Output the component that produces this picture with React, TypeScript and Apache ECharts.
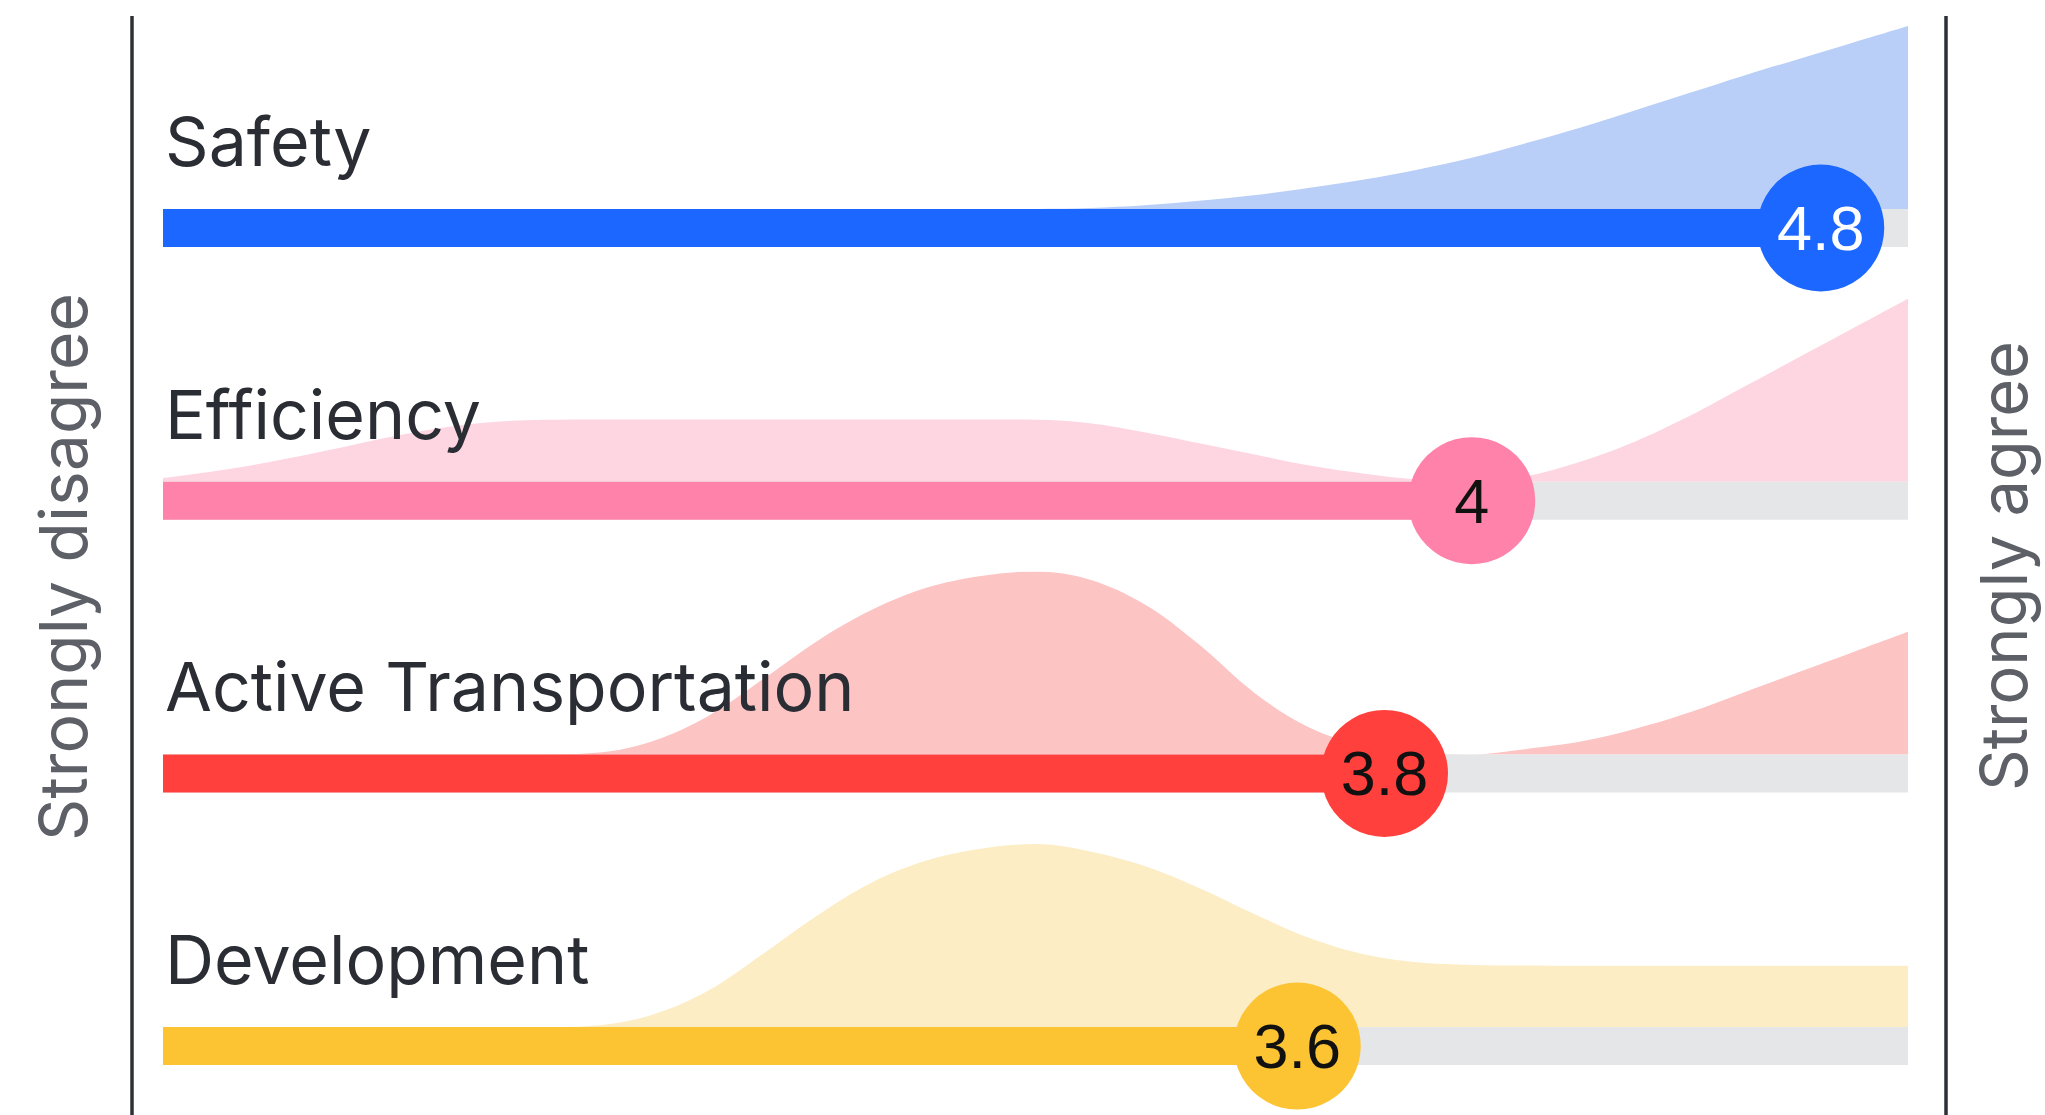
import React, { useEffect, useRef } from "react";
import * as echarts from "echarts";

// ---------- data ----------
const CATEGORIES = ["Safety", "Efficiency", "Active Transportation", "Development"];
const SCORES = [4.8, 4.0, 3.8, 3.6];
const SCORE_LABELS = ["4.8", "4", "3.8", "3.6"];
const LEFT_LABEL = "Strongly disagree";
const RIGHT_LABEL = "Strongly agree";

// response-scale positions at which the (normalised) distribution height is read
const DENSITY_X = [
  1, 1.125, 1.25, 1.375, 1.5, 1.625, 1.75, 1.875,
  2, 2.125, 2.25, 2.375, 2.5, 2.625, 2.75, 2.875,
  3, 3.125, 3.25, 3.375, 3.5, 3.625, 3.75, 3.875,
  4, 4.125, 4.25, 4.375, 4.5, 4.625, 4.75, 4.875, 5,
];
const SAFETY_DENSITY = [
  0, 0, 0, 0, 0, 0, 0, 0,
  0, 0, 0, 0, 0, 0, 0, 0,
  0, 0.005, 0.02, 0.045, 0.075, 0.115, 0.16, 0.215,
  0.28, 0.36, 0.445, 0.54, 0.635, 0.73, 0.82, 0.91, 1.0,
];
const EFFICIENCY_DENSITY = [
  0.02, 0.06, 0.11, 0.17, 0.235, 0.29, 0.325, 0.338,
  0.34, 0.34, 0.34, 0.34, 0.34, 0.34, 0.34, 0.34,
  0.338, 0.32, 0.27, 0.21, 0.15, 0.09, 0.045, 0.012,
  0.0, 0.03, 0.11, 0.22, 0.36, 0.52, 0.68, 0.84, 1.0,
];
const ACTIVE_DENSITY = [
  0, 0, 0, 0, 0, 0, 0, 0,
  0.01, 0.075, 0.21, 0.41, 0.62, 0.79, 0.91, 0.975,
  1.0, 0.955, 0.82, 0.6, 0.34, 0.15, 0.05, 0.01,
  0.0, 0.03, 0.07, 0.14, 0.23, 0.34, 0.45, 0.56, 0.67,
];
const DEVELOPMENT_DENSITY = [
  0, 0, 0, 0, 0, 0, 0, 0,
  0.01, 0.07, 0.2, 0.4, 0.61, 0.79, 0.91, 0.975,
  1.0, 0.96, 0.88, 0.76, 0.62, 0.49, 0.4, 0.355,
  0.34, 0.336, 0.335, 0.335, 0.335, 0.335, 0.335, 0.335, 0.335,
];
const DENSITIES = [SAFETY_DENSITY, EFFICIENCY_DENSITY, ACTIVE_DENSITY, DEVELOPMENT_DENSITY];

// ---------- styles ----------
const STRONG = ["#1c67ff", "#ff82aa", "#ff403c", "#fcc433"];
const LIGHT = ["#b9cff8", "#fdd6e2", "#fdc4c4", "#fcedc5"];
const SCORE_TEXT = ["#ffffff", "#111111", "#111111", "#111111"];
const TRACK = "#e4e6e7";

const W = 2045;
const H = 1115;
const PLOT_LEFT = 163;
const PLOT_RIGHT = 1908;
const AREA_PX = 183;
const BAR_PX = 38;
const ROW_CENTER0 = 228;
const ROW_STEP = 272.7;
const Y_MIN = -BAR_PX / AREA_PX;
const Y_MID = Y_MIN / 2;

function buildOption() {
  const grid: any[] = [];
  const xAxis: any[] = [];
  const yAxis: any[] = [];
  const series: any[] = [];
  const graphic: any[] = [];

  CATEGORIES.forEach((name, i) => {
    const c = ROW_CENTER0 + i * ROW_STEP;
    grid.push({
      left: PLOT_LEFT,
      width: PLOT_RIGHT - PLOT_LEFT,
      top: c + BAR_PX / 2 - (AREA_PX + BAR_PX),
      height: AREA_PX + BAR_PX,
    });
    xAxis.push({ type: "value", gridIndex: i, min: 1, max: 5, show: false });
    yAxis.push({ type: "value", gridIndex: i, min: Y_MIN, max: 1, show: false });

    series.push({
      type: "line",
      name: name + " distribution",
      xAxisIndex: i,
      yAxisIndex: i,
      data: DENSITY_X.map((x, k) => [x, DENSITIES[i][k]]),
      smooth: 0.35,
      symbol: "none",
      lineStyle: { width: 0 },
      areaStyle: { color: LIGHT[i], opacity: 1 },
      silent: true,
      z: 1,
    });
    series.push({
      type: "line",
      xAxisIndex: i,
      yAxisIndex: i,
      data: [
        [1, Y_MID],
        [5, Y_MID],
      ],
      symbol: "none",
      lineStyle: { width: BAR_PX, color: TRACK, cap: "butt" },
      silent: true,
      z: 2,
    });
    series.push({
      type: "line",
      xAxisIndex: i,
      yAxisIndex: i,
      data: [
        [1, Y_MID],
        [SCORES[i], Y_MID],
      ],
      symbol: "none",
      lineStyle: { width: BAR_PX, color: STRONG[i], cap: "butt" },
      silent: true,
      z: 3,
    });
    series.push({
      type: "scatter",
      xAxisIndex: i,
      yAxisIndex: i,
      data: [[SCORES[i], Y_MID]],
      symbolSize: 127,
      clip: false,
      itemStyle: { color: STRONG[i], opacity: 1 },
      label: {
        show: true,
        position: "inside",
        formatter: () => SCORE_LABELS[i],
        fontSize: 63,
        fontFamily: "'Liberation Sans', Arial, sans-serif",
        color: SCORE_TEXT[i],
      },
      silent: true,
      z: 4,
    });

    graphic.push({
      type: "text",
      x: PLOT_LEFT + 2,
      y: c - 87,
      z: 10,
      style: {
        text: name,
        font: "400 68px Inter, 'Noto Sans', sans-serif",
        fill: "#2a2d33",
        align: "left",
        verticalAlign: "middle",
      },
    });
  });

  graphic.push(
    {
      type: "line",
      z: 10,
      shape: { x1: 132, y1: 16, x2: 132, y2: H },
      style: { stroke: "#2d3036", lineWidth: 3.5 },
    },
    {
      type: "line",
      z: 10,
      shape: { x1: 1946, y1: 16, x2: 1946, y2: H },
      style: { stroke: "#2d3036", lineWidth: 3.5 },
    },
    {
      type: "text",
      x: 63,
      y: 567,
      rotation: Math.PI / 2,
      z: 10,
      style: {
        text: LEFT_LABEL,
        font: "400 66px Inter, 'Noto Sans', sans-serif",
        fill: "#5d6067",
        align: "center",
        verticalAlign: "middle",
      },
    },
    {
      type: "text",
      x: 2003,
      y: 566,
      rotation: Math.PI / 2,
      z: 10,
      style: {
        text: RIGHT_LABEL,
        font: "400 65px Inter, 'Noto Sans', sans-serif",
        fill: "#5d6067",
        align: "center",
        verticalAlign: "middle",
      },
    }
  );

  return {
    animation: false,
    backgroundColor: "#ffffff",
    grid,
    xAxis,
    yAxis,
    series,
    graphic,
  };
}

export default function App() {
  const ref = useRef<HTMLDivElement>(null);
  useEffect(() => {
    if (!ref.current) return;
    const chart = echarts.init(ref.current, null, { renderer: "svg", width: W, height: H });
    chart.setOption(buildOption() as any);
    return () => chart.dispose();
  }, []);
  return (
    <div
      ref={ref}
      style={{ position: "absolute", left: 0, top: 0, width: W, height: H, background: "#fff" }}
    />
  );
}
